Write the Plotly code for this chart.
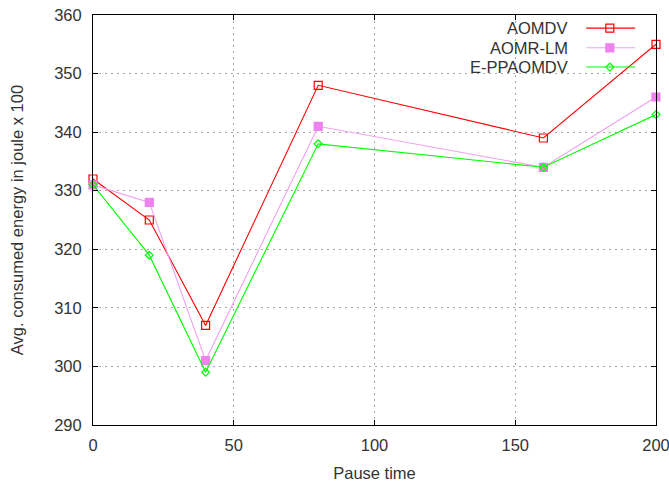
import plotly.graph_objects as go

pause_time = [0, 20, 40, 80, 160, 200]
aomdv = [332, 325, 307, 348, 339, 355]
aomr_lm = [331, 328, 301, 341, 334, 346]
e_ppaomdv = [331, 319, 299, 338, 334, 343]

series = [
    ("AOMDV", aomdv, "#ff0000", "#ff0000", "square-open", 8),
    ("AOMR-LM", aomr_lm, "#f0a0f0", "#ee82ee", "square", 8),
    ("E-PPAOMDV", e_ppaomdv, "#00ff00", "#00ff00", "diamond-open", 6),
]

FS = 16.5
fig = go.Figure()
for name, vals, lc, mc, sym, sz in series:
    fig.add_trace(go.Scatter(
        x=pause_time, y=vals, mode="lines+markers", name=name,
        line=dict(color=lc, width=1.1),
        marker=dict(symbol=sym, size=sz, color=mc, line=dict(color=mc, width=1.2)),
        showlegend=False, cliponaxis=False,
    ))

# custom gnuplot-style legend (text left, sample right) on overlay axes
leg_y = [0.968, 0.920, 0.873]
for (name, vals, lc, mc, sym, sz), ly in zip(series, leg_y):
    fig.add_trace(go.Scatter(
        x=[0.876, 0.963], y=[ly, ly], xaxis="x2", yaxis="y2", mode="lines",
        line=dict(color=lc, width=1.1), showlegend=False, hoverinfo="skip"))
    fig.add_trace(go.Scatter(
        x=[0.918], y=[ly], xaxis="x2", yaxis="y2", mode="markers",
        marker=dict(symbol=sym, size=sz, color=mc, line=dict(color=mc, width=1.2)),
        showlegend=False, hoverinfo="skip"))
    fig.add_annotation(x=0.848, y=ly, xref="x2", yref="y2", text=name,
                       showarrow=False, xanchor="right", yanchor="middle",
                       font=dict(size=FS, color="#333333"))

axis_common = dict(
    showline=True, linecolor="black", linewidth=1, mirror="ticks",
    ticks="inside", ticklen=5, tickcolor="black",
    showgrid=True, gridcolor="#a8a8a8", griddash="2px,4px", gridwidth=1,
    zeroline=False, tickfont=dict(size=FS, color="#333333"),
    automargin=False, ticklabeloverflow="allow",
)

fig.update_layout(
    width=669, height=484,
    margin=dict(l=93, r=13, t=15, b=59),
    paper_bgcolor="white", plot_bgcolor="white",
    font=dict(family="Liberation Sans, Arial, sans-serif", color="#333333"),
    xaxis=dict(range=[0, 200], tickvals=[0, 50, 100, 150, 200],
               ticklabelstandoff=5,
               title=dict(text="Pause time", font=dict(size=FS), standoff=14),
               **axis_common),
    yaxis=dict(range=[290, 360], tickvals=list(range(290, 361, 10)),
               ticklabelstandoff=7,
               title=dict(text="Avg. consumed energy in joule x 100", font=dict(size=FS), standoff=26),
               **axis_common),
    xaxis2=dict(range=[0, 1], overlaying="x", visible=False, fixedrange=True),
    yaxis2=dict(range=[0, 1], overlaying="y", visible=False, fixedrange=True),
)

fig.write_html("out.html")
